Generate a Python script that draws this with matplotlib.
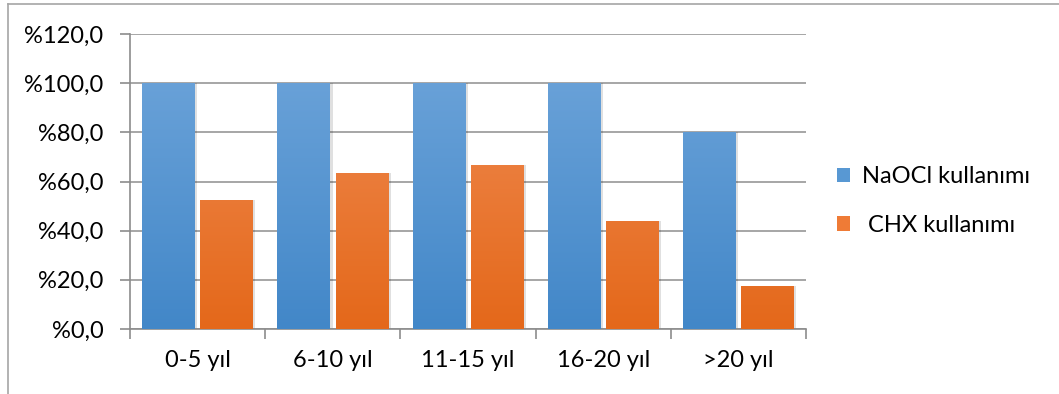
import matplotlib
matplotlib.use("Agg")
import matplotlib.pyplot as plt
import numpy as np
from matplotlib.patches import Patch
from matplotlib.lines import Line2D
from matplotlib.colors import LinearSegmentedColormap

plt.rcParams['font.family'] = ['Lato', 'DejaVu Sans']

categories = ["0-5 yıl", "6-10 yıl", "11-15 yıl", "16-20 yıl", ">20 yıl"]
naocl = [100.0, 100.0, 100.0, 100.0, 80.0]
chx = [52.6, 63.3, 66.7, 43.8, 17.6]
series_names = ["NaOCl kullanımı", " CHX kullanımı"]
yticks = [0, 20, 40, 60, 80, 100, 120]
ytick_labels = ["%0,0", "%20,0", "%40,0", "%60,0", "%80,0", "%100,0", "%120,0"]

blue_top, blue_bot = "#70A6DB", "#4287C8"
orange_top, orange_bot = "#F18E57", "#E4681A"

fig = plt.figure(figsize=(10.59, 3.94), dpi=100)
ax = fig.add_axes([130/1059, 1 - 329/394, (806-130)/1059, (329-34)/394])

x = np.arange(len(categories))
w = 0.39
off = 0.215
ymax = 120
FS = 17

def grad_bars(xs, vals, ctop, cbot):
    bars = ax.bar(xs, vals, width=w, color=cbot, zorder=3, linewidth=0)
    cmap = LinearSegmentedColormap.from_list("g", [cbot, ctop])
    g = np.linspace(0, 1, 256).reshape(-1, 1)
    for b in bars:
        bx, by = b.get_x(), b.get_y()
        bw, bh = b.get_width(), b.get_height()
        # soft shadow
        ax.bar(bx + bw/2 + 0.012, bh, width=bw + 0.012, bottom=by, color="#000000",
               alpha=0.12, zorder=2.5, linewidth=0)
        im = ax.imshow(g, extent=[bx, bx + bw, 0, ymax], origin="lower",
                       aspect="auto", cmap=cmap, zorder=3.5, interpolation="bilinear")
        im.set_clip_path(b)
    return bars

grad_bars(x - off, naocl, blue_top, blue_bot)
grad_bars(x + off, chx, orange_top, orange_bot)

ax.set_xlim(-0.5, len(categories) - 0.5)
ax.set_ylim(0, ymax)
ax.set_yticks(yticks)
ax.set_yticklabels(ytick_labels)
ax.set_xticks(x)
ax.set_xticklabels(categories)
ax.set_xticks(np.arange(-0.5, len(categories)), minor=True)

ax.grid(axis="y", color="#A6A6A6", linewidth=1.4, zorder=0)
ax.set_axisbelow(True)
for s in ["top", "right"]:
    ax.spines[s].set_visible(False)
for s in ["left", "bottom"]:
    ax.spines[s].set_color("#8C8C8C")
    ax.spines[s].set_linewidth(1.2)

ax.tick_params(axis="y", length=7, width=1.2, color="#8C8C8C", labelsize=FS, pad=12)
ax.tick_params(axis="x", which="major", length=0, labelsize=FS, pad=15)
ax.tick_params(axis="x", which="minor", length=7, width=1.2, color="#8C8C8C")

handles = [Patch(facecolor="#5898D3", edgecolor="none"),
           Patch(facecolor="#EF7B36", edgecolor="none")]
fig.legend(handles, series_names, loc="center left", bbox_to_anchor=(0.7905, 0.49),
           frameon=False, fontsize=FS, handlelength=0.55, handleheight=0.55,
           handletextpad=0.5, labelspacing=1.18, borderaxespad=0, borderpad=0)

fig.add_artist(Line2D([8/1059, 8/1059], [0.0, 1 - 4/394], color="#A6A6A6",
                      linewidth=1.2, transform=fig.transFigure))
fig.add_artist(Line2D([8/1059, 1.0], [1 - 4/394, 1 - 4/394], color="#A6A6A6",
                      linewidth=1.2, transform=fig.transFigure))

fig.savefig("out.png", dpi=100, facecolor="white")
